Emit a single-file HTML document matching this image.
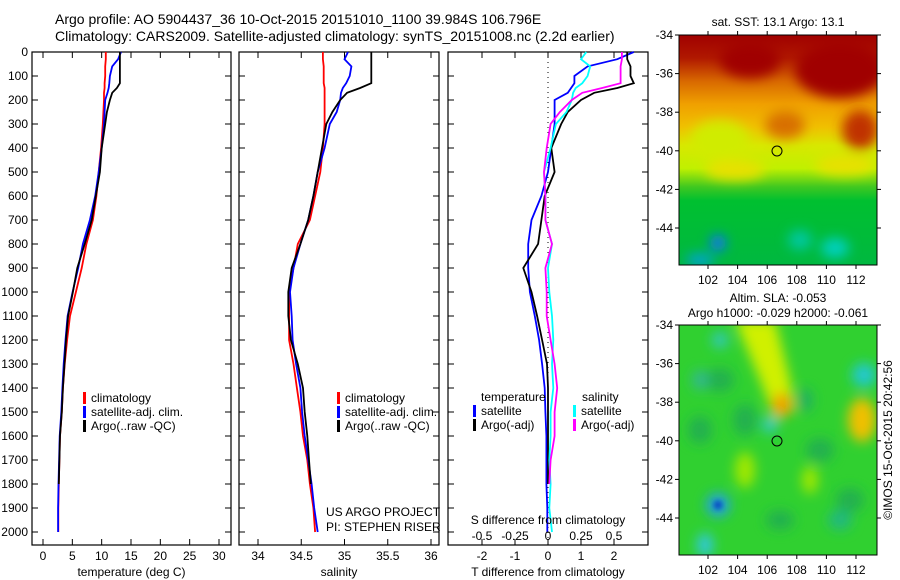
<!DOCTYPE html>
<html><head><meta charset="utf-8">
<style>
html,body{margin:0;padding:0;background:#fff;}
svg{display:block;font-family:"Liberation Sans",sans-serif;}
</style></head>
<body>
<svg id="fig" width="900" height="580" viewBox="0 0 900 580">
<defs>
  <filter id="blur6" x="-50%" y="-50%" width="200%" height="200%"><feGaussianBlur stdDeviation="6"/></filter>
  <filter id="blur3" x="-50%" y="-50%" width="200%" height="200%"><feGaussianBlur stdDeviation="3"/></filter>
  <clipPath id="clipTop"><rect x="679" y="35" width="198" height="230"/></clipPath>
  <clipPath id="clipBot"><rect x="679" y="325" width="198" height="230"/></clipPath>
  <linearGradient id="sstGrad" x1="0" y1="0" x2="0" y2="1">
    <stop offset="0" stop-color="#a00000"/>
    <stop offset="0.1" stop-color="#b01800"/>
    <stop offset="0.2" stop-color="#d86800"/>
    <stop offset="0.3" stop-color="#f0a000"/>
    <stop offset="0.4" stop-color="#f0c000"/>
    <stop offset="0.48" stop-color="#d8e800"/>
    <stop offset="0.58" stop-color="#c0f000"/>
    <stop offset="0.66" stop-color="#40c820"/>
    <stop offset="0.72" stop-color="#00c030"/>
    <stop offset="1" stop-color="#00b840"/>
  </linearGradient>
</defs>
<g id="titles">
  <text x="55" y="24" font-size="14">Argo profile: AO 5904437_36 10-Oct-2015 20151010_1100 39.984S 106.796E</text>
  <text x="55" y="41" font-size="14">Climatology: CARS2009. Satellite-adjusted climatology: synTS_20151008.nc (2.2d earlier)</text>
</g>
<g id="p1"></g>
<g id="p2"></g>
<g id="p3"></g>

<g id="mapTop">
  <g clip-path="url(#clipTop)">
    <rect x="679" y="35" width="198" height="230" fill="url(#sstGrad)"/>
    <g filter="url(#blur6)">
      <ellipse cx="840" cy="70" rx="45" ry="28" fill="#a00000"/>
      <ellipse cx="750" cy="60" rx="30" ry="18" fill="#a00000"/>
      <ellipse cx="860" cy="130" rx="18" ry="20" fill="#c03000"/>
      <ellipse cx="785" cy="125" rx="20" ry="14" fill="#d87000"/>
      <ellipse cx="720" cy="140" rx="30" ry="20" fill="#d0ec00"/>
      <ellipse cx="845" cy="165" rx="30" ry="10" fill="#e8e000"/>
      <ellipse cx="735" cy="170" rx="30" ry="10" fill="#e8e000"/>
      <ellipse cx="718" cy="243" rx="8" ry="8" fill="#1070ff"/>
      <ellipse cx="800" cy="240" rx="12" ry="10" fill="#00c8a0"/>
      <ellipse cx="835" cy="248" rx="14" ry="10" fill="#00d0c0"/>
      <ellipse cx="700" cy="260" rx="14" ry="6" fill="#00a0e0"/>
    </g>
  </g>
  <rect x="679" y="35" width="198" height="230" fill="none" stroke="#000" stroke-width="1"/>
  <circle cx="777" cy="151" r="5" fill="none" stroke="#000" stroke-width="1"/>
  <text x="778" y="26" font-size="12" text-anchor="middle">sat. SST: 13.1  Argo: 13.1</text>
</g>
<g id="mapBot">
  <g clip-path="url(#clipBot)">
    <rect x="679" y="325" width="198" height="230" fill="#30d030"/>
    <g filter="url(#blur6)">
      <ellipse cx="720" cy="380" rx="14" ry="12" fill="#20b050"/>
      <ellipse cx="700" cy="430" rx="12" ry="14" fill="#20b050"/>
      <ellipse cx="745" cy="420" rx="12" ry="16" fill="#20b050"/>
      <ellipse cx="820" cy="450" rx="14" ry="12" fill="#20b050"/>
      <ellipse cx="850" cy="500" rx="14" ry="12" fill="#20b050"/>
      <ellipse cx="780" cy="520" rx="14" ry="10" fill="#20b050"/>
      <path d="M735 320 L775 320 L790 380 L795 410 L775 420 L760 380 Z" fill="#d0f000"/>
      <ellipse cx="782" cy="405" rx="10" ry="12" fill="#f0a000"/>
      <ellipse cx="862" cy="420" rx="14" ry="22" fill="#f0c000"/>
      <ellipse cx="864" cy="375" rx="12" ry="12" fill="#20c8d0"/>
      <ellipse cx="718" cy="505" rx="12" ry="12" fill="#20a0e0"/>
      <ellipse cx="770" cy="425" rx="7" ry="8" fill="#30c8d0"/>
      <ellipse cx="720" cy="340" rx="8" ry="8" fill="#30c8c0"/>
      <ellipse cx="700" cy="380" rx="8" ry="10" fill="#30b890"/>
      <ellipse cx="705" cy="545" rx="8" ry="12" fill="#30c8e0"/>
      <ellipse cx="745" cy="470" rx="10" ry="18" fill="#a0e800"/>
      <ellipse cx="810" cy="480" rx="8" ry="14" fill="#a0e800"/>
      <ellipse cx="840" cy="520" rx="12" ry="10" fill="#20b880"/>
      <ellipse cx="805" cy="400" rx="8" ry="12" fill="#20b060"/>
    </g>
    <ellipse cx="718" cy="505" rx="4" ry="4" fill="#0030c0" filter="url(#blur3)"/>
  </g>
  <rect x="679" y="325" width="198" height="230" fill="none" stroke="#000" stroke-width="1"/>
  <circle cx="777" cy="441" r="5" fill="none" stroke="#000" stroke-width="1"/>
  <text x="778" y="302" font-size="12" text-anchor="middle">Altim. SLA: -0.053</text>
  <text x="778" y="317" font-size="12" text-anchor="middle">Argo h1000: -0.029 h2000: -0.061</text>
</g>
<text transform="translate(892,440) rotate(-90)" font-size="12" text-anchor="middle">©IMOS 15-Oct-2015 20:42:56</text>
</svg>
<script>
const depth=[0,30,60,100,130,150,170,200,250,300,400,500,600,700,800,900,1000,1100,1200,1300,1400,1500,1600,1700,1800,1900,2000];
const climT=[10.7,10.7,10.6,10.6,10.5,10.5,10.4,10.4,10.3,10.2,9.9,9.5,9.1,8.5,7.4,6.6,5.6,4.6,4.1,3.7,3.4,3.2,2.9,2.8,2.7,2.6,2.6];
const satT=[13.3,12.8,11.8,11.4,11.3,11.2,11.0,10.6,10.5,10.4,10.0,9.5,8.9,8.0,6.8,6.0,5.05,4.2,3.83,3.52,3.3,3.12,2.85,2.75,2.65,2.58,2.58];
const argoT=[13.1,13.1,13.1,13.1,13.1,12.6,11.8,11.4,10.9,10.6,10.0,9.7,9.0,8.3,7.1,5.85,5.1,4.27,3.92,3.67,3.4,3.2,2.9,2.8,2.7,null,null];
const climS=[34.75,34.75,34.76,34.76,34.76,34.77,34.77,34.77,34.77,34.77,34.75,34.72,34.66,34.60,34.46,34.41,34.36,34.36,34.36,34.41,34.45,34.49,34.52,34.57,34.60,34.64,34.66];
const satS=[35.04,35.0,35.08,35.06,35.02,34.98,34.96,34.95,34.91,34.83,34.77,34.69,34.64,34.58,34.49,34.41,34.37,34.39,34.40,34.44,34.49,34.51,34.54,34.58,34.62,34.65,34.69];
const argoS=[35.31,35.31,35.31,35.31,35.31,35.18,35.03,34.95,34.86,34.79,34.74,34.69,34.64,34.58,34.49,34.39,34.35,34.35,34.38,34.46,34.52,34.54,34.57,34.59,34.61,null,null];
const depthTicks=[0,100,200,300,400,500,600,700,800,900,1000,1100,1200,1300,1400,1500,1600,1700,1800,1900,2000];
const tTicks=[0,5,10,15,20,25,30];
const sTicks=[34,34.5,35,35.5,36];
const dTTicks=[-2,-1,0,1,2];
const dSTicks=[-0.5,-0.25,0,0.25,0.5];
const latTicks=[-34,-36,-38,-40,-42,-44];
const lonTicks=[102,104,106,108,110,112];

const NS='http://www.w3.org/2000/svg';
const svg=document.getElementById('fig');
function mk(tag,attrs,parent){const e=document.createElementNS(NS,tag);for(const k in attrs)e.setAttribute(k,attrs[k]);(parent||svg).appendChild(e);return e;}
const Y0=52,Y1=545;
function yD(d){return Y0+(d-0)*(532-52)/2000;}
function lin(d0,d1,p0,p1){return v=>p0+(v-d0)*(p1-p0)/(d1-d0);}

function panel(g,x0,x1,xs,ticks,fmt,label,showDepth){
  const r=mk('rect',{x:x0,y:Y0,width:x1-x0,height:Y1-Y0,fill:'none',stroke:'#000','stroke-width':1.2},g);
  
  
  depthTicks.forEach(d=>{
    const y=yD(d);
    mk('line',{x1:x0,x2:x0+6,y1:y,y2:y,stroke:'#000'},g);
    mk('line',{x1:x1-6,x2:x1,y1:y,y2:y,stroke:'#000'},g);
    if(showDepth){const t=mk('text',{x:28,y:y+4,'font-size':12,'text-anchor':'end'},g);t.textContent=d;
      
      }
  });
  ticks.forEach(v=>{
    const x=xs(v);
    mk('line',{x1:x,x2:x,y1:Y1,y2:Y1-6,stroke:'#000'},g);
    mk('line',{x1:x,x2:x,y1:Y0,y2:Y0+6,stroke:'#000'},g);
    const t=mk('text',{x:x,y:560,'font-size':12,'text-anchor':'middle'},g);t.textContent=fmt(v);
    
    
  });
  const t=mk('text',{x:(x0+x1)/2,y:576,'font-size':12,'text-anchor':'middle'},g);t.textContent=label;
  
  
}
function series(g,xs,vals,color,name,w){
  let d='';let pen=false;
  vals.forEach((v,i)=>{if(v===null){pen=false;return;}d+=(pen?'L':'M')+xs(v).toFixed(1)+' '+yD(depth[i]).toFixed(1);pen=true;});
  const p=mk('path',{d:d,fill:'none',stroke:color,'stroke-width':w||1.8},g);
  
  
}
function legend(g,x,y,items){
  items.forEach((it,i)=>{
    mk('rect',{x:x,y:y+i*14-10,width:3,height:12,fill:it[0]},g);
    const t=mk('text',{x:x+8,y:y+i*14,'font-size':12},g);t.textContent=it[1];
    
    
  });
}
const g1=document.getElementById('p1');
const xT=lin(0,30,43,219);
panel(g1,32,231,xT,tTicks,v=>v,'temperature (deg C)',true);
series(g1,xT,climT,'#ff0000','climatology-temp-line');
series(g1,xT,satT,'#0000ff','satellite-temp-line');
series(g1,xT,argoT,'#000000','argo-temp-line');
legend(g1,83,402,[['#f00','climatology'],['#00f','satellite-adj. clim.'],['#000','Argo(..raw -QC)']]);
const g2=document.getElementById('p2');
const xS=lin(34,36,258,431);
panel(g2,239,439,xS,sTicks,v=>v,'salinity',false);
series(g2,xS,climS,'#ff0000','climatology-salinity-line');
series(g2,xS,satS,'#0000ff','satellite-salinity-line');
series(g2,xS,argoS,'#000000','argo-salinity-line');
legend(g2,337,402,[['#f00','climatology'],['#00f','satellite-adj. clim.'],['#000','Argo(..raw -QC)']]);
const c1=mk('text',{x:326,y:516,'font-size':12},g2);c1.textContent='US ARGO PROJECT';


const c2=mk('text',{x:326,y:531,'font-size':12},g2);c2.textContent='PI: STEPHEN RISER';


const g3=document.getElementById('p3');
const xDT=lin(-2,2,482,614);
const xDS=v=>xDT(v*4);
panel(g3,448,648,xDT,dTTicks,v=>v,'T difference from climatology',false);
mk('line',{x1:xDT(0),x2:xDT(0),y1:Y0,y2:Y1,stroke:'#000','stroke-dasharray':'1,4'},g3);
const dT=(a)=>a.map((v,i)=>v===null?null:v-climT[i]);
const dS=(a)=>a.map((v,i)=>v===null?null:v-climS[i]);
series(g3,xDT,dT(satT),'#0000ff','satellite-temp-diff-line');
series(g3,xDT,dT(argoT),'#000000','argo-temp-diff-line');
series(g3,xDS,dS(satS),'#00ffff','satellite-salinity-diff-line');
series(g3,xDS,dS(argoS),'#ff00ff','argo-salinity-diff-line');
dSTicks.forEach(v=>{const t=mk('text',{x:xDS(v),y:540,'font-size':12,'text-anchor':'middle'},g3);t.textContent=v;
  
  });
const st=mk('text',{x:548,y:524,'font-size':12,'text-anchor':'middle'},g3);st.textContent='S difference from climatology';


const h1=mk('text',{x:481,y:401,'font-size':12},g3);h1.textContent='temperature';


const h2=mk('text',{x:582,y:401,'font-size':12},g3);h2.textContent='salinity';


legend(g3,473,415,[['#00f','satellite'],['#000','Argo(-adj)']]);
legend(g3,573,415,[['#0ff','satellite'],['#f0f','Argo(-adj)']]);
function mapAxes(gid,top){
  const g=document.getElementById(gid);
  const yl=lin(-34,-44,top,top+193);
  const xl=lin(102,112,708,856);
  latTicks.forEach(v=>{const y=yl(v);
    mk('line',{x1:675,x2:679,y1:y,y2:y,stroke:'#000'},g);
    mk('line',{x1:877,x2:881,y1:y,y2:y,stroke:'#000'},g);
    const t=mk('text',{x:673,y:y+4,'font-size':12,'text-anchor':'end'},g);t.textContent=v;
    
    });
  lonTicks.forEach(v=>{const x=xl(v);
    mk('line',{x1:x,x2:x,y1:top-4,y2:top,stroke:'#000'},g);
    mk('line',{x1:x,x2:x,y1:top+230,y2:top+234,stroke:'#000'},g);
    const t=mk('text',{x:x,y:top+249,'font-size':12,'text-anchor':'middle'},g);t.textContent=v;
    
    });
}
mapAxes('mapTop',35);
mapAxes('mapBot',325);
</script>
</body></html>
